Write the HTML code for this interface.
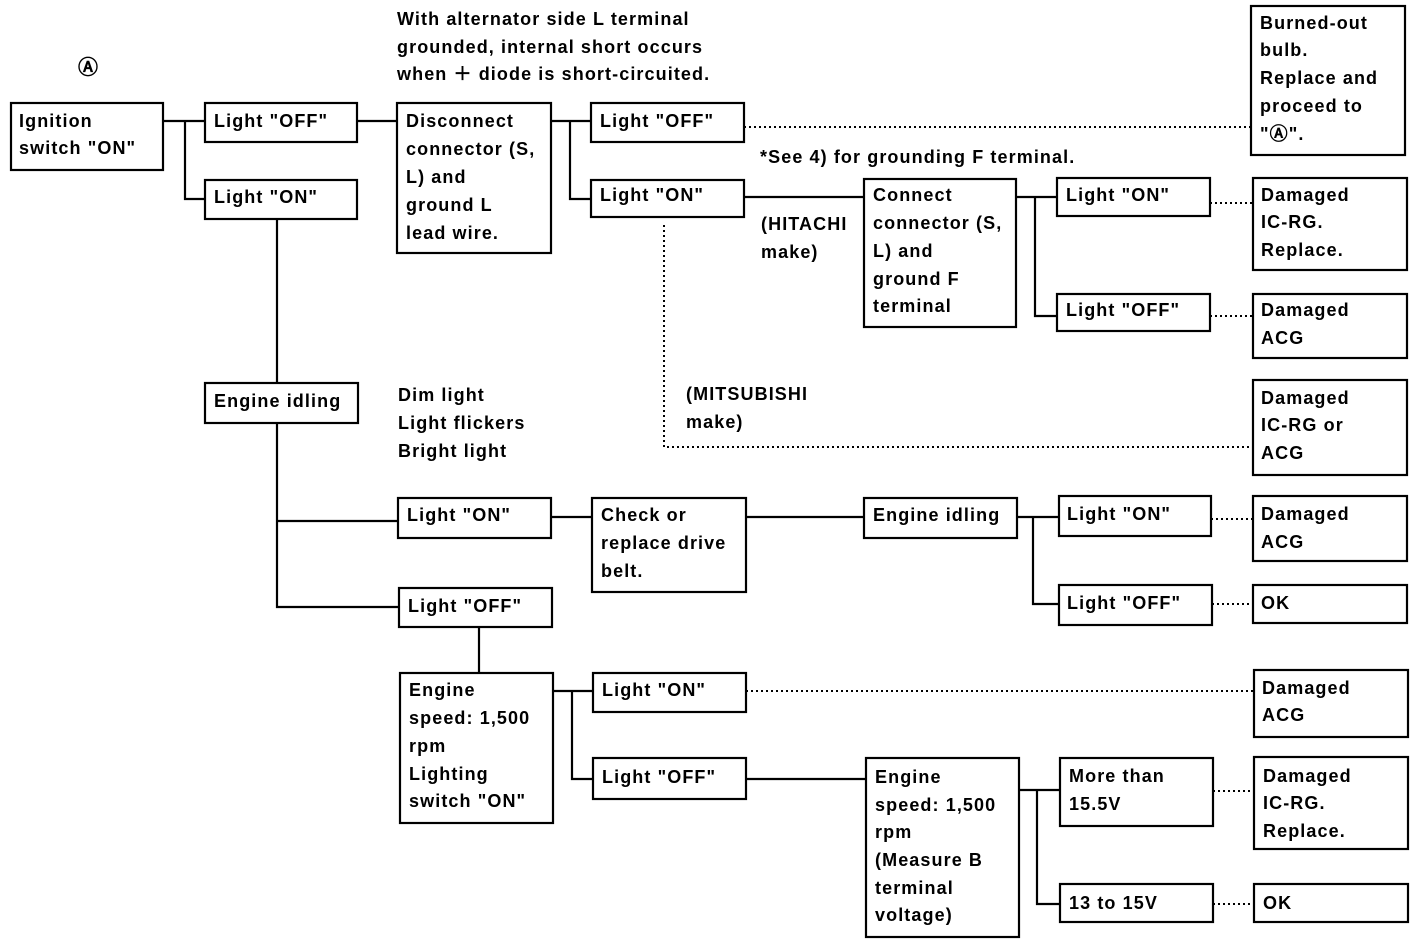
<!DOCTYPE html>
<html><head><meta charset="utf-8"><style>
html,body{margin:0;padding:0;background:#fff}
svg text{font-family:"Liberation Sans",sans-serif;font-size:18px;font-weight:bold;letter-spacing:1.1px;fill:#000}
</style></head><body>
<svg width="1424" height="944" viewBox="0 0 1424 944" xmlns="http://www.w3.org/2000/svg">
<g fill="none" stroke="#000" stroke-width="2.2">
<rect x="11" y="103" width="152" height="67"/>
<rect x="205" y="103" width="152" height="39"/>
<rect x="205" y="180" width="152" height="39"/>
<rect x="397" y="103" width="154" height="150"/>
<rect x="591" y="103" width="153" height="39"/>
<rect x="591" y="180" width="153" height="37"/>
<rect x="864" y="179" width="152" height="148"/>
<rect x="1057" y="178" width="153" height="38"/>
<rect x="1057" y="294" width="153" height="37"/>
<rect x="1251" y="6" width="154" height="149"/>
<rect x="1253" y="178" width="154" height="92"/>
<rect x="1253" y="294" width="154" height="64"/>
<rect x="1253" y="380" width="154" height="95"/>
<rect x="205" y="383" width="153" height="40"/>
<rect x="398" y="498" width="153" height="40"/>
<rect x="592" y="498" width="154" height="94"/>
<rect x="864" y="498" width="153" height="40"/>
<rect x="1059" y="496" width="152" height="40"/>
<rect x="1059" y="585" width="153" height="40"/>
<rect x="1253" y="496" width="154" height="65"/>
<rect x="1253" y="585" width="154" height="38"/>
<rect x="399" y="588" width="153" height="39"/>
<rect x="400" y="673" width="153" height="150"/>
<rect x="593" y="673" width="153" height="39"/>
<rect x="593" y="758" width="153" height="41"/>
<rect x="1254" y="670" width="154" height="67"/>
<rect x="866" y="758" width="153" height="179"/>
<rect x="1060" y="758" width="153" height="68"/>
<rect x="1254" y="757" width="154" height="92"/>
<rect x="1060" y="884" width="153" height="38"/>
<rect x="1254" y="884" width="154" height="38"/>
<path d="M163 121H205M185 121V199H205M357 121H397M551 121H591M570 121V199H591M744 197H864M1016 197H1057M1035 197V316H1057M277 219V383M277 423V607H399M277 521H398M551 517H592M746 517H864M1017 517H1059M1033 517V604H1059M479 627V673M553 691H593M572 691V779H593M746 779H866M1019 790H1060M1037 790V904H1060"/>
</g>
<g fill="none" stroke="#000" stroke-width="2" stroke-dasharray="2,3">
<path d="M744 127H1251M664 225V447H1253M1210 203H1253M1210 316H1253M1211 519H1253M1212 604H1253M746 691H1254M1213 791H1254M1213 904H1254"/>
</g>
<text x="78" y="74" style="font-size:20px">Ⓐ</text>
<text x="397" y="25">With alternator side L terminal</text>
<text x="397" y="53">grounded, internal short occurs</text>
<text x="397" y="80">when ＋ diode is short-circuited.</text>
<text x="19" y="127">Ignition</text><text x="19" y="154">switch "ON"</text>
<text x="214" y="127">Light "OFF"</text>
<text x="214" y="203">Light "ON"</text>
<text x="406" y="127">Disconnect</text><text x="406" y="155">connector (S,</text><text x="406" y="183">L) and</text><text x="406" y="211">ground L</text><text x="406" y="239">lead wire.</text>
<text x="600" y="127">Light "OFF"</text>
<text x="600" y="201">Light "ON"</text>
<text x="760" y="163">*See 4) for grounding F terminal.</text>
<text x="761" y="230">(HITACHI</text><text x="761" y="258">make)</text>
<text x="873" y="201">Connect</text><text x="873" y="229">connector (S,</text><text x="873" y="257">L) and</text><text x="873" y="285">ground F</text><text x="873" y="312">terminal</text>
<text x="1066" y="201">Light "ON"</text>
<text x="1066" y="316">Light "OFF"</text>
<text x="1260" y="29">Burned-out</text><text x="1260" y="56">bulb.</text><text x="1260" y="84">Replace and</text><text x="1260" y="112">proceed to</text><text x="1260" y="140">"Ⓐ".</text>
<text x="1261" y="201">Damaged</text><text x="1261" y="228">IC-RG.</text><text x="1261" y="256">Replace.</text>
<text x="1261" y="316">Damaged</text><text x="1261" y="344">ACG</text>
<text x="686" y="400">(MITSUBISHI</text><text x="686" y="428">make)</text>
<text x="1261" y="404">Damaged</text><text x="1261" y="431">IC-RG or</text><text x="1261" y="459">ACG</text>
<text x="214" y="407">Engine idling</text>
<text x="398" y="401">Dim light</text><text x="398" y="429">Light flickers</text><text x="398" y="457">Bright light</text>
<text x="407" y="521">Light "ON"</text>
<text x="601" y="521">Check or</text><text x="601" y="549">replace drive</text><text x="601" y="577">belt.</text>
<text x="873" y="521">Engine idling</text>
<text x="1067" y="520">Light "ON"</text>
<text x="1067" y="609">Light "OFF"</text>
<text x="1261" y="520">Damaged</text><text x="1261" y="548">ACG</text>
<text x="1261" y="609">OK</text>
<text x="408" y="612">Light "OFF"</text>
<text x="409" y="696">Engine</text><text x="409" y="724">speed: 1,500</text><text x="409" y="752">rpm</text><text x="409" y="780">Lighting</text><text x="409" y="807">switch "ON"</text>
<text x="602" y="696">Light "ON"</text>
<text x="602" y="783">Light "OFF"</text>
<text x="1262" y="694">Damaged</text><text x="1262" y="721">ACG</text>
<text x="875" y="783">Engine</text><text x="875" y="811">speed: 1,500</text><text x="875" y="838">rpm</text><text x="875" y="866">(Measure B</text><text x="875" y="894">terminal</text><text x="875" y="921">voltage)</text>
<text x="1069" y="782">More than</text><text x="1069" y="810">15.5V</text>
<text x="1263" y="782">Damaged</text><text x="1263" y="809">IC-RG.</text><text x="1263" y="837">Replace.</text>
<text x="1069" y="909">13 to 15V</text>
<text x="1263" y="909">OK</text>
</svg>
</body></html>
